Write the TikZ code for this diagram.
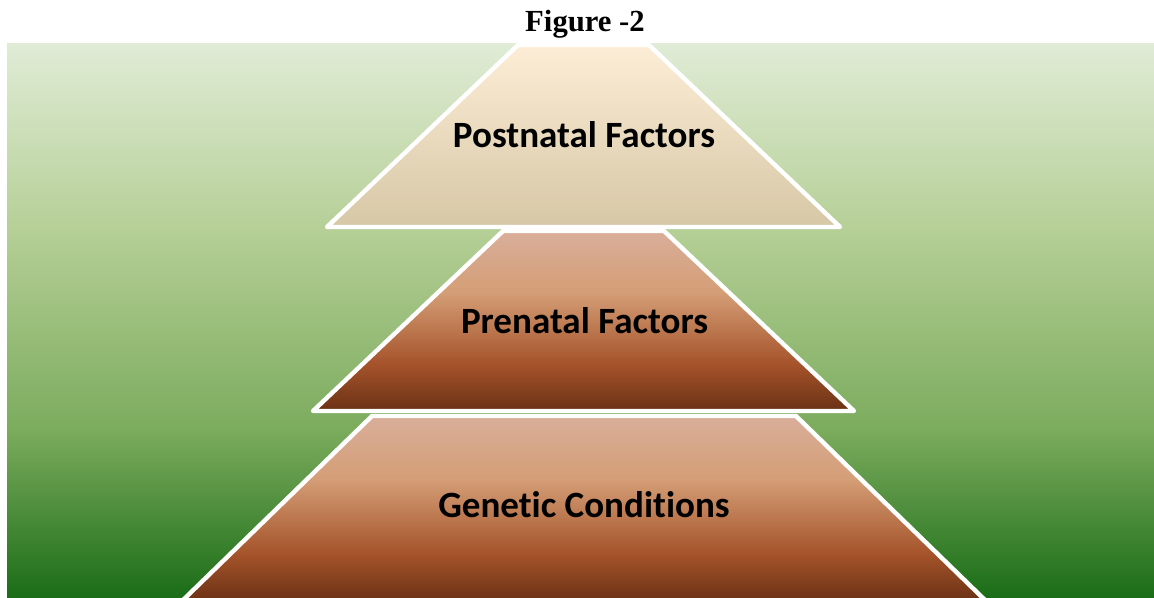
\documentclass[tikz,border=0pt]{standalone}
\usepackage{fontspec}
\setmainfont{Carlito}[Ligatures=NoCommon]
\newfontfamily\figfont{Liberation Serif}
\usetikzlibrary{positioning}

\definecolor{fieldtop}{HTML}{E0ECD6}
\definecolor{fieldlight}{HTML}{B5CF96}
\definecolor{fieldmid}{HTML}{7BAB5D}
\definecolor{fielddark}{HTML}{1B6D17}
\definecolor{creamtop}{HTML}{FDEDD6}
\definecolor{creambot}{HTML}{D6C7A6}
\definecolor{claytop}{HTML}{D9AE9A}
\definecolor{claylight}{HTML}{D49E76}
\definecolor{claymid}{HTML}{A5532A}
\definecolor{claydark}{HTML}{6A3115}

\pgfdeclareverticalshading{fieldshade}{100bp}{color(0bp)=(fielddark); color(25bp)=(fielddark);
  color(40bp)=(fieldmid); color(58bp)=(fieldlight); color(75bp)=(fieldtop); color(100bp)=(fieldtop)}
\pgfdeclareverticalshading{creamshade}{100bp}{color(0bp)=(creambot); color(25bp)=(creambot);
  color(75bp)=(creamtop); color(100bp)=(creamtop)}
\pgfdeclareverticalshading{clayshade}{100bp}{color(0bp)=(claydark); color(25bp)=(claydark);
  color(38bp)=(claymid); color(58bp)=(claylight); color(75bp)=(claytop); color(100bp)=(claytop)}

\begin{document}
\begin{tikzpicture}[x=0.75pt, y=-0.75pt,
    layer/.style={shade, draw=white, line width=3.3pt, line join=round},
    layer text/.style={anchor=base, font=\fontsize{27.8}{32}\selectfont\bfseries}]
    \useasboundingbox (0,0) rectangle (1154,597);
    \fill[white] (0,0) rectangle (1154,597);

    % field behind the pyramid
    \path[shading=fieldshade, shade] (7,43) rectangle (1154,597);

    % the three layers
    \path[layer, shading=clayshade] (372,416) -- (796,416) -- (987,602) -- (181,602) -- cycle;
    \path[layer, shading=clayshade] (503,231) -- (664,231) -- (854,411) -- (313,411) -- cycle;
    \path[layer, shading=creamshade] (518,45) -- (649,45) -- (840,227) -- (327,227) -- cycle;

    \node[layer text] (postnatal) at (584,147) {Postnatal Factors};
    \node[layer text] (prenatal) at (584.5,333) {Prenatal Factors};
    \node[layer text] (genetic) at (584,517) {Genetic Conditions};

    \node[anchor=base, font=\figfont\fontsize{23}{28}\selectfont\bfseries] (title) at (585,31) {Figure -2};
\end{tikzpicture}
\end{document}
